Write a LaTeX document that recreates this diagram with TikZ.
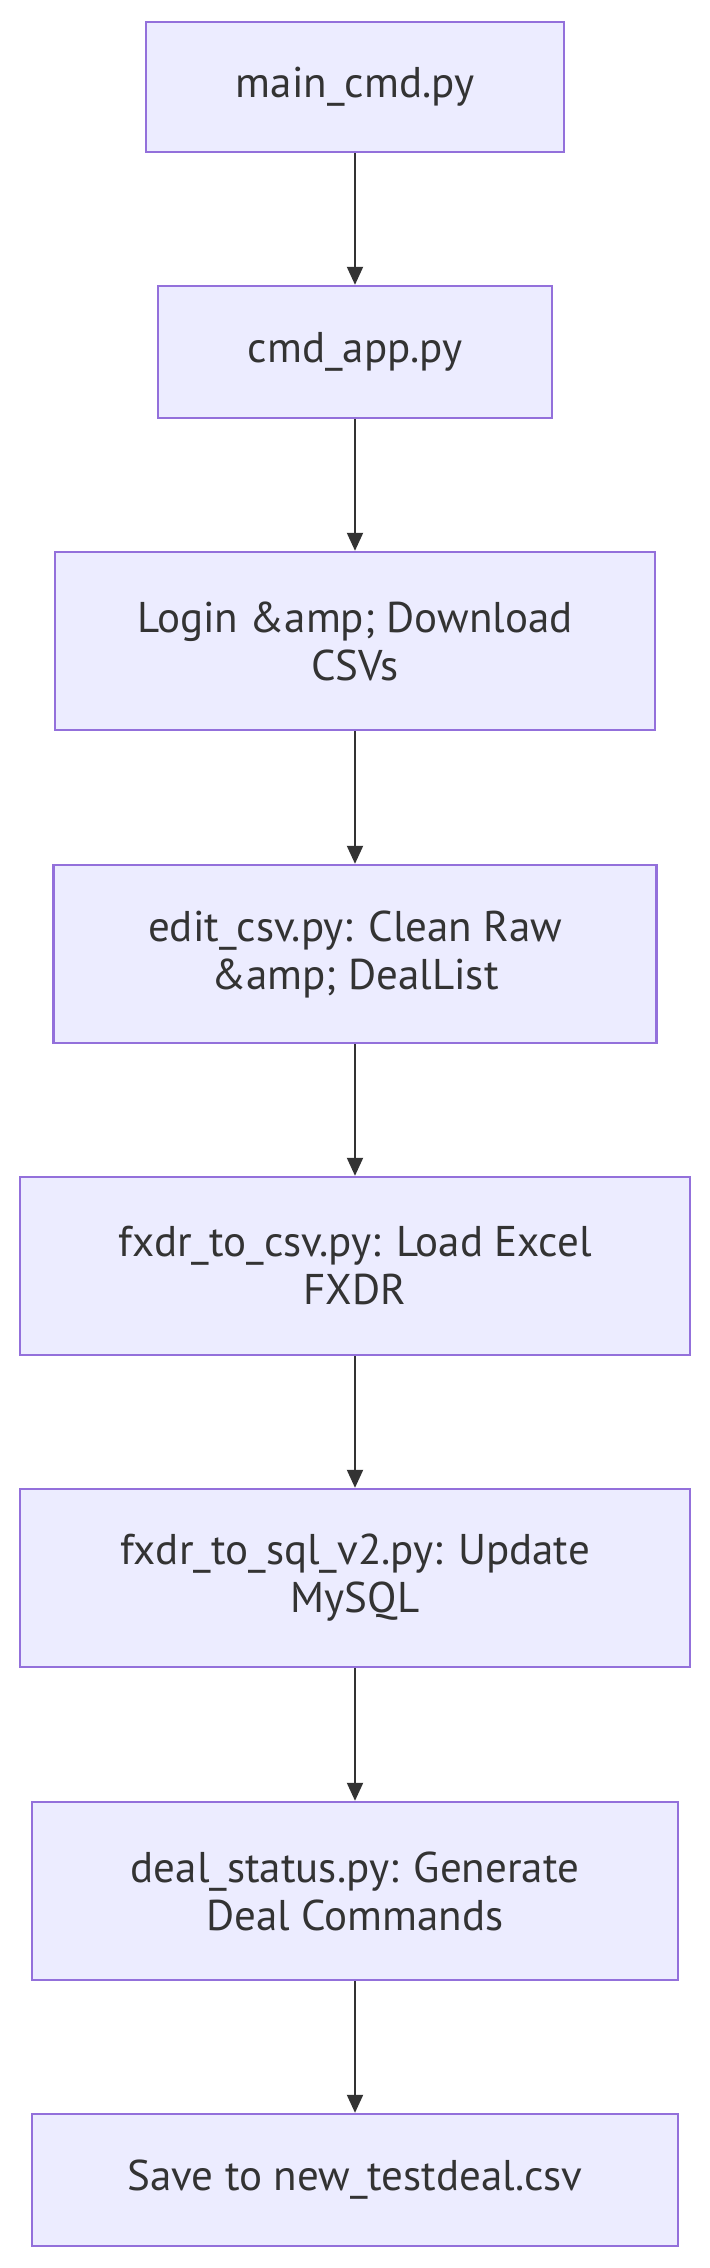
\documentclass[tikz,border=0pt]{standalone}
\usepackage{fontspec}
\setmainfont{PT Sans}
\usetikzlibrary{arrows.meta}

\definecolor{boxfill}{HTML}{ECECFF}
\definecolor{boxline}{HTML}{9370DB}
\definecolor{ink}{HTML}{333333}

\tikzset{
  stepbox/.style={draw=boxline, fill=boxfill, line width=1.2pt, align=center,
    text=ink, font=\fontsize{21.5}{24}\selectfont, inner sep=0pt},
  flow/.style={-{Triangle[length=9pt,width=8pt]}, draw=ink, line width=1pt}
}

\begin{document}
\begin{tikzpicture}[x=0.5pt, y=-0.5pt]

\useasboundingbox (0,0) rectangle (710,2268);

% Boxes
\node[stepbox, minimum width=209pt, minimum height=65pt] (main) at (355,87) {main\_cmd.py};
\node[stepbox, minimum width=197pt, minimum height=66pt] (app) at (355,352) {cmd\_app.py};
\node[stepbox, minimum width=300pt, minimum height=89pt] (login) at (355,641) {Login \&amp; Download\\CSVs};
\node[stepbox, minimum width=301.5pt, minimum height=89pt] (edit) at (355,954) {edit\_csv.py: Clean Raw\\\&amp; DealList};
\node[stepbox, minimum width=335pt, minimum height=89pt] (tocsv) at (355,1266) {fxdr\_to\_csv.py: Load Excel\\FXDR};
\node[stepbox, minimum width=335pt, minimum height=89pt] (tosql) at (355,1578) {fxdr\_to\_sql\_v2.py: Update\\MySQL};
\node[stepbox, minimum width=323pt, minimum height=89pt] (status) at (355,1891) {deal\_status.py: Generate\\Deal Commands};
\node[stepbox, minimum width=323pt, minimum height=66pt] (save) at (355,2180) {Save to new\_testdeal.csv};

% Arrows
\foreach \a/\b in {main/app, app/login, login/edit, edit/tocsv, tocsv/tosql, tosql/status, status/save}
  \draw[flow] (\a.south) -- (\b.north);

\end{tikzpicture}
\end{document}
